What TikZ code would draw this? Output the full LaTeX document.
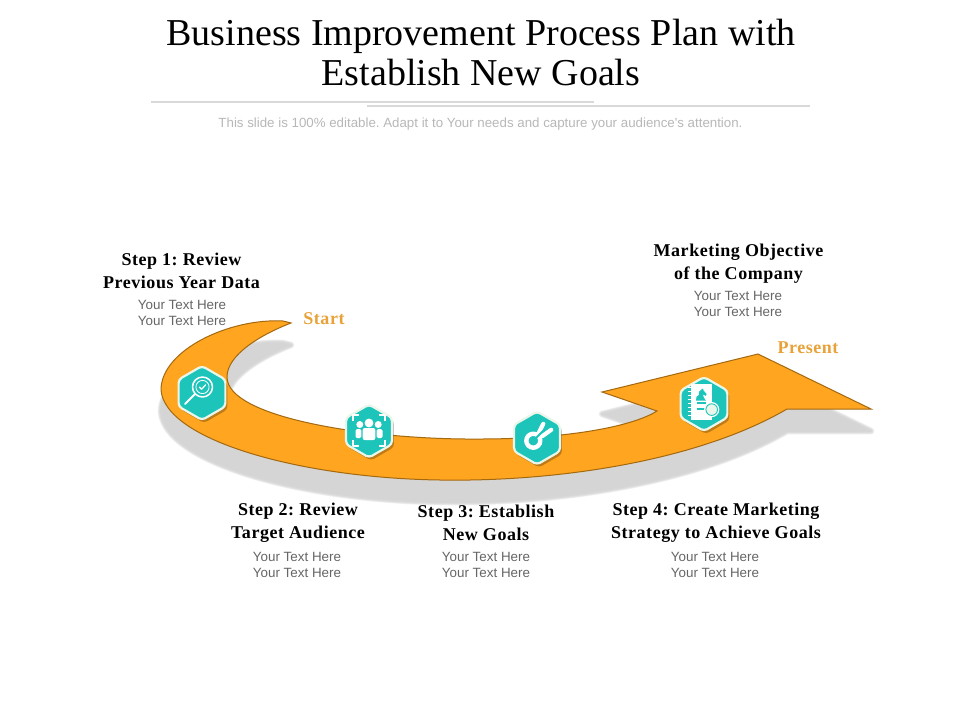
\documentclass[tikz,border=0pt]{standalone}
\usepackage{fontspec}
\setmainfont{Liberation Serif}
\newfontfamily\sansf{Liberation Sans}
\newfontfamily\headf[LetterSpace=3]{Liberation Serif}
\usetikzlibrary{shapes.geometric,shadows}
\definecolor{orangeA}{HTML}{FFA51F}
\definecolor{edgeA}{HTML}{A4680F}
\definecolor{tealA}{HTML}{1CC4BA}
\definecolor{rimA}{HTML}{EAF6EA}
\definecolor{labelA}{HTML}{E8A238}
\definecolor{shadeA}{HTML}{D4D4D4}
\definecolor{ruleA}{HTML}{D9D9D9}
\definecolor{subA}{HTML}{B8B8B8}
\definecolor{bodyA}{HTML}{666666}
\def\arrowoutline{(291,323) -- (283,321)
 .. controls (230,318) and (161,350) .. (161,390)
 .. controls (165,440) and (300,478) .. (440,480)
 .. controls (560,482) and (700,460) .. (787,409)
 -- (871,409) -- (758,354) -- (602,392) -- (657,411)
 .. controls (630,428) and (560,439) .. (480,439)
 .. controls (370,440) and (227,418) .. (227,377)
 .. controls (227,355) and (260,335) .. (291,323) -- cycle}
\tikzset{
  ttl/.style={font=\fontsize{38}{40}\selectfont,align=center,text=black,inner sep=0pt},
  head/.style={font=\headf\bfseries\fontsize{18}{23}\selectfont\frenchspacing,align=center,text=black,inner sep=0pt},
  body/.style={font=\sansf\fontsize{13.4}{16}\selectfont,align=center,text=bodyA,inner sep=0pt},
  tag/.style={font=\headf\bfseries\fontsize{18}{20}\selectfont,text=labelA,inner sep=0pt},
  hexa/.style={regular polygon,regular polygon sides=6,shape border rotate=30,minimum size=#1,inner sep=0pt,
    fill=tealA,draw=rimA,line width=2.2pt,rounded corners=3.5pt,
    drop shadow={shadow xshift=2pt,shadow yshift=-3pt,opacity=.25,fill=black}},
  ink/.style={draw=white,line cap=round,line join=round}
}
\begin{document}
\begin{tikzpicture}[x=1pt,y=-1pt]
\useasboundingbox (0,0) rectangle (960,720);
\fill[white] (0,0) rectangle (960,720);
% title
\node[ttl] (title) at (481,52.5) {Business Improvement Process Plan with\\Establish New Goals};
\coordinate (r1a) at (151,102); \coordinate (r1b) at (594,102);
\coordinate (r2a) at (367,106); \coordinate (r2b) at (810,106);
\draw[ruleA,line width=1.6pt] (r1a) -- (r1b);
\draw[ruleA,line width=1.6pt] (r2a) -- (r2b);
\node[font=\sansf\fontsize{13.3}{15}\selectfont\frenchspacing,text=subA,inner sep=0pt] (sub) at (480.5,124) {This slide is 100\% editable. Adapt it to Your needs and capture your audience's attention.};
% shadow
\foreach \w in {6.5,5.2,4,2.8,1.6,.4}{
  \begin{scope}[transparency group,opacity=.36,shift={(0,22)}]
    \path[fill=shadeA,draw=shadeA,line width=\w pt,line join=round] \arrowoutline;
  \end{scope}
}
% arrow
\path[fill=orangeA,draw=edgeA,line width=1pt,line join=miter] \arrowoutline;
% hexagons
\node[hexa=54] (h1) at (202,393) {};
\node[hexa=53] (h2) at (369,431) {};
\node[hexa=53] (h3) at (537,438) {};
\node[hexa=54] (h4) at (704,404) {};
% icon 1: magnifier
\begin{scope}[shift={(h1.center)}]
  \draw[ink,line width=1.5pt] (0.5,-6) circle (10);
  \draw[ink,line width=.8pt] (0.5,-6) circle (6.6);
  \draw[ink,line width=1.3pt] (-2.6,-6) -- (-.4,-3.8) -- (3.6,-8.2);
  \draw[ink,line width=2pt] (-7.2,1.2) -- (-17,11);
\end{scope}
% icon 2: audience
\begin{scope}[shift={(h2.center)}]
  \draw[ink,line width=1.3pt,line cap=butt] (-16,-10) -- (-16,-16) -- (-10,-16);
  \draw[ink,line width=1.3pt,line cap=butt] (10,-16) -- (16,-16) -- (16,-10);
  \draw[ink,line width=1.3pt,line cap=butt] (-16,9) -- (-16,15) -- (-10,15);
  \draw[ink,line width=1.3pt,line cap=butt] (10,15) -- (16,15) -- (16,9);
  \fill[white] (0,-8) circle (4.4);
  \fill[white] (-9.2,-6.5) circle (3.5);
  \fill[white] (9.2,-6.5) circle (3.5);
  \fill[white,rounded corners=2pt] (-6.3,9) rectangle (6.3,-3);
  \fill[white,rounded corners=1.5pt] (-13.5,7) rectangle (-7.6,-2);
  \fill[white,rounded corners=1.5pt] (7.6,7) rectangle (13.5,-2);
\end{scope}
% icon 3: ring and ears
\begin{scope}[shift={(h3.center)}]
  \draw[ink,line width=4.4pt] (-3.7,2.7) circle (7);
  \draw[ink,line width=4.2pt] (1.6,-5) -- (6.3,-14.2);
  \draw[ink,line width=4.2pt] (5.2,-1.8) -- (14.2,-8.2);
  \draw[tealA,line width=2pt] (-2,1) -- (10,-11);
\end{scope}
% icon 4: notebook
\begin{scope}[shift={(h4.center)}]
  \fill[white] (-13,-20) rectangle (7.5,16);
  \foreach \yy in {-17,-13,-9,-5,-1,3,7,11}{
    \draw[white,line width=.9pt] (-16.5,\yy) -- (-13,\yy);
  }
  \fill[tealA] (-8,-3.5) -- (-7.4,-7.5) -- (-5,-9) -- (-5.2,-12) -- (-2.5,-14.5) -- (-1,-15.5) -- (-.5,-13.5) -- (2.6,-10) -- (1.8,-8.2) -- (-1,-9.5) -- (-.2,-6.5) -- (1.8,-3.5) -- cycle;
  \draw[tealA,line width=1.1pt] (-7.5,-1) -- (2,-1);
  \draw[tealA,line width=1.1pt] (-7.5,5) -- (3,5);
  \fill[white] (7.7,5.6) circle (7.6);
  \draw[tealA,fill=rimA,line width=.9pt] (7.7,5.6) circle (5.8);
\end{scope}
% labels
\node[tag] (start) at (324,319) {Start};
\node[tag] (present) at (808,348) {Present};
\node[head] (s1) at (181.5,271) {Step 1: Review\\Previous Year Data};
\node[body] (b1) at (182,312.5) {Your Text Here\\Your Text Here};
\node[head] (s0) at (738.5,264) {Marketing Objective\\of  the Company};
\node[body] (b0) at (738,303.5) {Your Text Here\\Your Text Here};
\node[head] (s2) at (298,523) {Step 2: Review\\Target Audience};
\node[body] (b2) at (297,564.5) {Your Text Here\\Your Text Here};
\node[head] (s3) at (486,522.5) {Step 3: Establish\\New Goals};
\node[body] (b3) at (486,564.5) {Your Text Here\\Your Text Here};
\node[head] (s4) at (716,523) {Step 4: Create Marketing\\Strategy to Achieve Goals};
\node[body] (b4) at (715,564.5) {Your Text Here\\Your Text Here};
\end{tikzpicture}
\end{document}
